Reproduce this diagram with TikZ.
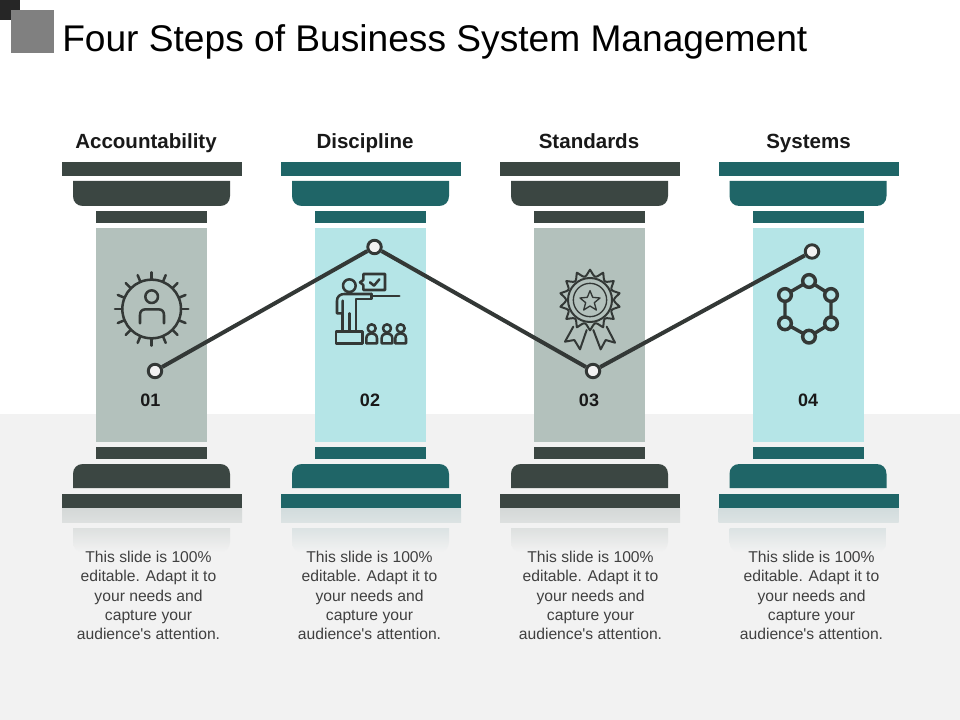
\documentclass[tikz,border=0pt]{standalone}
\usepackage{fontspec}
\newfontfamily\plainsans{Liberation Sans}
\definecolor{pdark}{HTML}{3B4642}
\definecolor{pteal}{HTML}{1F6567}
\definecolor{sgrey}{HTML}{B3C1BC}
\definecolor{steal}{HTML}{B5E5E7}
\definecolor{rdark}{HTML}{D4D8D7}
\definecolor{rteal}{HTML}{D2DCDD}
\definecolor{floor}{HTML}{F2F2F2}
\definecolor{iconink}{HTML}{333836}
\tikzset{
  x=0.75pt,y=-0.75pt,
  titletext/.style={font=\plainsans\fontsize{27.85pt}{32pt}\selectfont,anchor=base west,text=black,inner sep=0pt},
  headtext/.style={font=\plainsans\bfseries\fontsize{15.4pt}{18pt}\selectfont,text=black!90,inner sep=0pt,anchor=base},
  numtext/.style={font=\plainsans\bfseries\fontsize{13.5pt}{16pt}\selectfont,text=black!90,inner sep=0pt,anchor=base},
  bodytext/.style={font=\plainsans\fontsize{11.75pt}{14.4pt}\selectfont,text=black!75,align=center,inner sep=0pt},
  joint/.style={circle,draw=iconink,line width=2.2pt,fill=white!95!black,minimum size=13.5pt*0.75,inner sep=0pt},
  link/.style={draw=iconink,line width=3pt},
  ink/.style={draw=iconink,line width=1.9pt,line cap=round,line join=round},
  thinink/.style={draw=iconink,line width=1pt,line join=round},
}
\begin{document}
\begin{tikzpicture}
\useasboundingbox (0,0) rectangle (960,720);
\fill[white] (0,0) rectangle (960,720);
\fill[floor] (0,414) rectangle (960,720);
% corner squares
\fill[black!85] (0,0) rectangle (20,20);
\fill[black!50] (11,10) rectangle (54,53);
\node[titletext] (title) at (62,52) {Four Steps of Business System Management};
% pillars
\foreach \ox/\main/\shaft/\refl in {0/pdark/sgrey/rdark,219/pteal/steal/rteal,438/pdark/sgrey/rdark,656.5/pteal/steal/rteal}{
\begin{scope}[xshift=\ox*0.75pt]
  \fill[\main] (62,162) rectangle (242,176);
  \fill[\main] (73,181) -- (73,196) .. controls (73,202) and (77,206) .. (83,206) -- (220,206) .. controls (226,206) and (230,202) .. (230,196) -- (230,181) -- cycle;
  \fill[\main] (96,211) rectangle (207,223);
  \fill[\shaft] (96,228) rectangle (207,442);
  \fill[\main] (96,447) rectangle (207,459);
  \fill[\main] (73,488) -- (73,474) .. controls (73,468) and (77,464) .. (83,464) -- (220,464) .. controls (226,464) and (230,468) .. (230,474) -- (230,488) -- cycle;
  \fill[\main] (62,494) rectangle (242,508);
  \shade[top color=\refl,bottom color=\refl!70!floor] (62,508) rectangle (242,522);
  \shade[top color=\refl!70!floor,bottom color=floor] (73,528) -- (73,542) .. controls (73,548) and (77,552) .. (83,552) -- (220,552) .. controls (226,552) and (230,548) .. (230,542) -- (230,528) -- cycle;
\end{scope}
}
% icon 1: person in gear
\begin{scope}[shift={(90,230)},x=0.25pt,y=-0.25pt]
  \draw[ink] (185,237) circle[radius=88*0.25pt];
  \foreach \a in {0,22.5,...,337.5}
    \draw[ink] ({185+88*cos(\a)},{237+88*sin(\a)}) -- ({185+110*cos(\a)},{237+110*sin(\a)});
  \draw[ink] (185,200) circle[radius=19*0.25pt];
  \draw[ink] (150,280) -- (150,255) .. controls (150,243) and (157,238) .. (167,238) -- (205,238) .. controls (215,238) and (222,243) .. (222,255) -- (222,280);
\end{scope}
% icon 2: presenter and audience
\begin{scope}[shift={(310,230)},x=0.25pt,y=-0.25pt]
  \draw[ink] (160,132) -- (225,132) -- (225,180) -- (160,180) -- (160,165) -- (150,157) -- (160,150) -- cycle;
  \draw[ink] (180,157) -- (192,167) -- (208,148);
  \draw[ink] (118,167) circle[radius=19*0.25pt];
  \draw[ink] (185,192) -- (103,192) .. controls (90,192) and (81,200) .. (81,212) -- (81,250) -- (98,250) -- (98,212);
  \draw[ink] (98,250) -- (98,305);
  \draw[ink] (138,305) -- (138,207) -- (185,207) -- (185,192);
  \draw[ink] (118,250) -- (118,305);
  \draw[ink] (185,198) -- (268,198);
  \draw[ink] (78,305) rectangle (158,340);
  \foreach \cx in {185,231,272}{
    \draw[ink] (\cx,295) circle[radius=12*0.25pt];
    \draw[ink] ({\cx-16},340) -- ({\cx-16},325) .. controls ({\cx-16},315) and ({\cx-8},310) .. (\cx,310) .. controls ({\cx+8},310) and ({\cx+16},315) .. ({\cx+16},325) -- ({\cx+16},340) -- cycle;
  }
\end{scope}
% icon 3: rosette
\begin{scope}[shift={(540,250)},x=0.25pt,y=-0.25pt]
  \draw[ink,line width=1.5pt] plot[domain=0:360,samples=281] ({150+(72+19*(1-abs(sin(7*\x+90))))*cos(\x)},{150+(72+19*(1-abs(sin(7*\x+90))))*sin(\x)}) -- cycle;
  \draw[ink,line width=1.5pt] (150,150) circle[radius=66*0.25pt];
  \draw[thinink] (150,150) circle[radius=50*0.25pt];
  \draw[thinink] (150,122) -- (158,142) -- (180,144) -- (163,158) -- (169,180) -- (150,168) -- (131,180) -- (137,158) -- (120,144) -- (142,142) -- cycle;
  \draw[ink,line width=1.5pt] (100,230) -- (75,275) -- (103,270) -- (120,298) -- (140,240);
  \draw[ink,line width=1.5pt] (160,240) -- (182,298) -- (197,270) -- (225,278) -- (200,230);
\end{scope}
% icon 4: ring of circles
\begin{scope}[shift={(760,235)},x=0.25pt,y=-0.25pt]
  \draw[ink,line width=2.6pt] (147,138) -- (213,180) -- (213,265) -- (147,305) -- (75,265) -- (75,180) -- cycle;
  \foreach \cx/\cy in {147/138,213/180,213/265,147/305,75/265,75/180}
    \draw[ink,line width=2.6pt,fill=steal] (\cx,\cy) circle[radius=19*0.25pt];
\end{scope}
% connector
\node[joint] (d1) at (155,371) {};
\node[joint] (d2) at (374.5,247) {};
\node[joint] (d3) at (593,371) {};
\node[joint] (d4) at (812,251.5) {};
\draw[link] (d1) -- (d2);
\draw[link] (d2) -- (d3);
\draw[link] (d3) -- (d4);
% labels
\node[headtext] (h1) at (146,148.5) {Accountability};
\node[headtext] (h2) at (365,148.5) {Discipline};
\node[headtext] (h3) at (589,148.5) {Standards};
\node[headtext] (h4) at (808.5,148.5) {Systems};
\node[numtext] (n1) at (150.5,406) {01};
\node[numtext] (n2) at (370,406) {02};
\node[numtext] (n3) at (589,406) {03};
\node[numtext] (n4) at (808,406) {04};
\node[bodytext] (b1) at (148.5,595.5) {This slide is 100\%\\editable. Adapt it to\\your needs and\\capture your\\audience's attention.};
\node[bodytext] (b2) at (369.5,595.5) {This slide is 100\%\\editable. Adapt it to\\your needs and\\capture your\\audience's attention.};
\node[bodytext] (b3) at (590.5,595.5) {This slide is 100\%\\editable. Adapt it to\\your needs and\\capture your\\audience's attention.};
\node[bodytext] (b4) at (811.5,595.5) {This slide is 100\%\\editable. Adapt it to\\your needs and\\capture your\\audience's attention.};
\end{tikzpicture}
\end{document}
